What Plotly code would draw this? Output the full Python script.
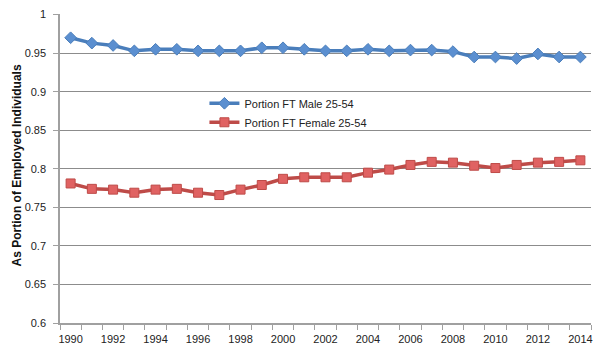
import plotly.graph_objects as go

years = list(range(1990, 2015))
male = [0.970, 0.963, 0.960, 0.953, 0.955, 0.955, 0.953, 0.953, 0.953, 0.957,
        0.957, 0.955, 0.953, 0.953, 0.955, 0.953, 0.954, 0.954, 0.952, 0.945,
        0.945, 0.943, 0.949, 0.945, 0.945]
female = [0.781, 0.774, 0.773, 0.769, 0.773, 0.774, 0.769, 0.766, 0.773, 0.779,
          0.787, 0.789, 0.789, 0.789, 0.795, 0.799, 0.805, 0.809, 0.808, 0.804,
          0.801, 0.805, 0.808, 0.809, 0.811]
year_ticks = list(range(1990, 2015, 2))
y_ticks = [0.6, 0.65, 0.7, 0.75, 0.8, 0.85, 0.9, 0.95, 1.0]
y_labels = ["0.6", "0.65", "0.7", "0.75", "0.8", "0.85", "0.9", "0.95", "1"]

FONT = "Liberation Sans"
# page body has an 8px default margin; compensate so the plot area sits at 60..591 x 14..323
W, H = 595, 352
L, R, T, B = 52, 12, 6, 37
PW = W - L - R

fig = go.Figure()
fig.add_trace(go.Scatter(
    x=years, y=male, mode="lines+markers", name="Portion FT Male 25-54",
    line=dict(color="#4A7EBB", width=3.5),
    marker=dict(symbol="diamond", size=9, color="#5B8FD0",
                line=dict(color="#4A7EBB", width=1)),
))
fig.add_trace(go.Scatter(
    x=years, y=female, mode="lines+markers", name="Portion FT Female 25-54",
    line=dict(color="#BE4B48", width=3.5),
    marker=dict(symbol="square", size=9, color="#E06262",
                line=dict(color="#BE4B48", width=1)),
))

fig.update_layout(
    width=W, height=H,
    margin=dict(l=L, r=R, t=T, b=B, autoexpand=False),
    paper_bgcolor="white", plot_bgcolor="white",
    font=dict(family=FONT, size=11, color="#222222"),
    legend=dict(x=0.272, y=0.758, xanchor="left", yanchor="top",
                bgcolor="rgba(0,0,0,0)", font=dict(size=11, color="#222222"),
                tracegroupgap=0),
    showlegend=True,
    annotations=[dict(
        text="<b>As Portion of Employed Individuals</b>",
        xref="paper", yref="paper", x=(9 - L) / PW, y=0.51,
        xanchor="center", yanchor="middle", textangle=-90, showarrow=False,
        font=dict(family=FONT, size=12, color="#111111"),
    )],
)
fig.update_xaxes(
    range=[1989.5, 2014.5], tickvals=year_ticks, ticktext=[str(y) for y in year_ticks],
    ticks="outside", ticklen=0, tickcolor="#A0A0A0",
    minor=dict(tick0=1989.5, dtick=1, ticks="outside", ticklen=5, tickcolor="#A0A0A0",
               showgrid=False),
    showline=True, linecolor="#A0A0A0", linewidth=1.5,
    showgrid=False, zeroline=False, automargin=False,
    ticklabelstandoff=5, ticklabeloverflow="allow",
    tickfont=dict(size=11, color="#222222"),
)
fig.update_yaxes(
    range=[0.6, 1.0008], tickvals=y_ticks, ticktext=y_labels,
    ticks="outside", ticklen=5, tickcolor="#A0A0A0",
    showline=True, linecolor="#A0A0A0", linewidth=1.5,
    showgrid=True, gridcolor="#8C8C8C", gridwidth=1, zeroline=False,
    automargin=False, ticklabelstandoff=5, ticklabeloverflow="allow",
    tickfont=dict(size=11, color="#222222"),
)

fig.write_html("out.html")
